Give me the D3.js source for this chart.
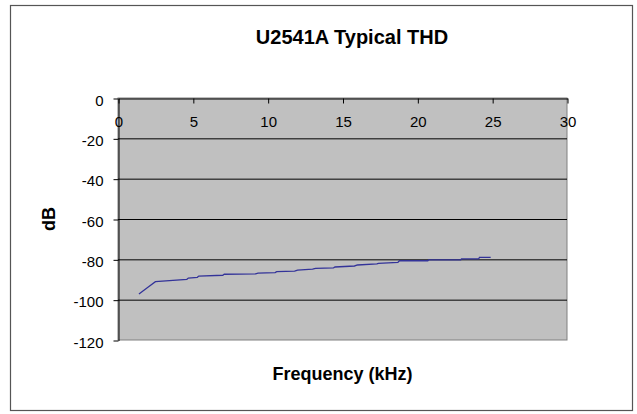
<!DOCTYPE html>
<html>
<head>
<meta charset="utf-8">
<script src="https://cdn.jsdelivr.net/npm/d3@7"></script>
<style>
  body { margin: 0; background: #fff; }
  text { font-family: "Liberation Sans", Arial, sans-serif; fill: #000; }
</style>
</head>
<body>
<svg width="637" height="414"></svg>
<script>
// data
const freqKHz = [1.4, 2.0, 2.5, 3.2, 4.6, 4.7, 5.3, 5.4, 7.0, 7.1, 9.2, 9.35, 10.5, 10.6, 11.8, 12.0, 13.0,
  13.2, 14.4, 14.5, 15.8, 16.0, 17.3, 17.4, 18.7, 18.8, 20.7, 20.75, 22.9, 22.95, 24.1, 24.15, 24.9];
const thdDb = [-97.2, -93.8, -91.1, -90.7, -89.9, -89.3, -88.9, -88.3, -87.9, -87.4, -87.2, -86.8, -86.6, -86.1, -85.8, -85.3, -84.9,
  -84.5, -84.2, -83.8, -83.3, -82.8, -82.3, -82.0, -81.5, -80.7, -80.7, -80.3, -80.3, -79.8, -79.8, -79.0, -79.0];
const xTicks = [0, 5, 10, 15, 20, 25, 30];
const yTicks = [0, -20, -40, -60, -80, -100, -120];

const svg = d3.select('svg');

// chart border
svg.append('rect')
  .attr('x', 10.5).attr('y', 5.5)
  .attr('width', 622).attr('height', 405)
  .attr('fill', '#fff')
  .attr('stroke', '#555')
  .attr('stroke-width', 1.2);

const plotL = 118, plotR = 567, plotT = 98, plotB = 340;

const x = d3.scaleLinear().domain([0, 30]).range([plotL, plotR]);
const y = d3.scaleLinear().domain([0, -120]).range([plotT, plotB]);

// plot area
svg.append('rect')
  .attr('x', plotL).attr('y', plotT)
  .attr('width', plotR - plotL).attr('height', plotB - plotT)
  .attr('fill', '#c0c0c0')
  .attr('stroke', '#808080');

// gridlines
svg.append('g')
  .selectAll('line')
  .data(yTicks.filter(d => d < 0 && d > -120))
  .join('line')
  .attr('x1', plotL).attr('x2', plotR)
  .attr('y1', d => y(d) + 0.5).attr('y2', d => y(d) + 0.5)
  .attr('stroke', '#000');

// y axis (plain hyphen minus, like the original)
const yAxis = svg.append('g')
  .attr('transform', `translate(${plotL + 0.5},0.5)`)
  .call(d3.axisLeft(y).tickValues(yTicks).tickFormat(d => String(d))
    .tickSize(5).tickSizeOuter(0).tickPadding(10));
yAxis.select('.domain').attr('stroke', '#000');
yAxis.selectAll('text').style('font-size', '15px').attr('dy', '0.45em');

// x axis on top, ticks pointing into the plot, labels inside
const xAxis = svg.append('g')
  .attr('transform', `translate(0.5,${plotT + 0.5})`)
  .call(d3.axisBottom(x).tickValues(xTicks).tickFormat(d => String(d))
    .tickSize(5).tickSizeOuter(0).tickPadding(13));
xAxis.select('.domain').attr('stroke', '#000');
xAxis.selectAll('text').style('font-size', '15px');

// series line
const line = d3.line()
  .x((d, i) => x(freqKHz[i]))
  .y(d => y(d));

svg.append('path')
  .datum(thdDb)
  .attr('d', line)
  .attr('fill', 'none')
  .attr('stroke', '#333399')
  .attr('stroke-width', 1.3);

// titles
svg.append('text')
  .attr('x', 352).attr('y', 44)
  .attr('text-anchor', 'middle')
  .style('font-size', '20px').style('font-weight', 'bold')
  .text('U2541A Typical THD');

svg.append('text')
  .attr('x', (plotL + plotR) / 2).attr('y', 380)
  .attr('text-anchor', 'middle')
  .style('font-size', '18px').style('font-weight', 'bold')
  .text('Frequency (kHz)');

svg.append('text')
  .attr('transform', `translate(55,${(plotT + plotB) / 2}) rotate(-90)`)
  .attr('text-anchor', 'middle')
  .style('font-size', '18px').style('font-weight', 'bold')
  .text('dB');
</script>
</body>
</html>
